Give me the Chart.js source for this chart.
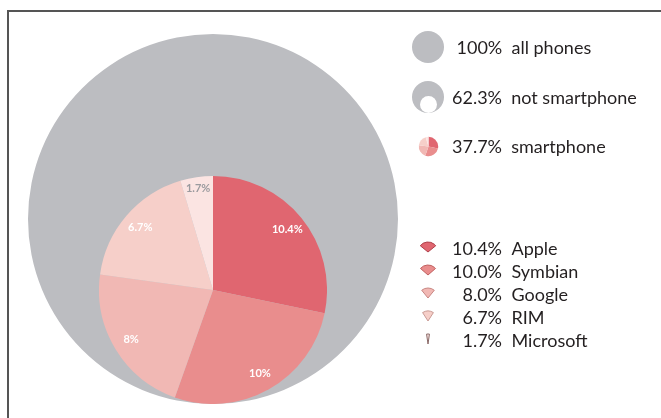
<!DOCTYPE html>
<html>
<head>
<meta charset="utf-8">
<script src="https://cdn.jsdelivr.net/npm/chart.js@4.4.1/dist/chart.umd.min.js"></script>
<style>
  body { margin: 0; background: #fff; }
  #wrap { position: relative; width: 661px; height: 418px; overflow: hidden; }
  #frame { position: absolute; left: 7px; top: 10px; width: 800px; height: 600px;
           border-left: 2px solid #555; border-top: 2px solid #555; }
  #allChart { position: absolute; left: 0; top: 0; }
  #smartChart { position: absolute; left: 99px; top: 176px; }
</style>
</head>
<body>
<div id="wrap">
  <div id="frame"></div>
  <canvas id="allChart" width="661" height="418"></canvas>
  <canvas id="smartChart" width="228" height="228"></canvas>
</div>
<script>
// top legend
const shareLabels = ['100%', '62.3%', '37.7%'];
const shareNames = ['all phones', 'not smartphone', 'smartphone'];

// smartphone platforms (share of all phones, %)
const platforms = ['Apple', 'Symbian', 'Google', 'RIM', 'Microsoft'];
const platformValues = [10.4, 10.0, 8.0, 6.7, 1.7];
const platformLegend = ['10.4%', '10.0%', '8.0%', '6.7%', '1.7%'];
const sliceLabels = ['10.4%', '10%', '8%', '6.7%', '1.7%'];
const sliceColors = ['#E06670', '#E98D8D', '#F1B8B4', '#F6CFC9', '#FBE4E2'];
const iconStroke = ['#B0404A', '#C0605F', '#C88682', '#C99A94', '#8a6a68'];

const grey = '#BCBDC1';
const textColor = '#231F20';
const legendFont = '18px Lato';
const total = platformValues.reduce((a, b) => a + b, 0);

// legend drawn on the big canvas
const legendPlugin = {
    id: 'phoneLegend',
    afterDraw(chart) {
        const ctx = chart.ctx;
        ctx.save();
        // all phones
        ctx.fillStyle = grey;
        ctx.beginPath(); ctx.arc(428, 47, 16, 0, Math.PI * 2); ctx.fill();
        // not smartphone
        ctx.beginPath(); ctx.arc(428, 97, 16, 0, Math.PI * 2); ctx.fill();
        ctx.fillStyle = '#fff';
        ctx.beginPath(); ctx.arc(428.5, 104.5, 8.5, 0, Math.PI * 2); ctx.fill();
        // smartphone mini pie
        let a = -Math.PI / 2;
        platformValues.forEach((v, i) => {
            const e = a + v / total * Math.PI * 2;
            ctx.fillStyle = sliceColors[i];
            ctx.beginPath(); ctx.moveTo(428.5, 146.5);
            ctx.arc(428.5, 146.5, 9.7, a, e); ctx.closePath(); ctx.fill();
            a = e;
        });

        ctx.fillStyle = textColor;
        ctx.font = legendFont;
        ctx.textBaseline = 'alphabetic';
        ctx.textAlign = 'left';
        ctx.fillText(shareLabels[0] + '  ' + shareNames[0], 456.5, 54);
        ctx.fillText(shareLabels[1] + '  ' + shareNames[1], 452, 103.5);
        ctx.fillText(shareLabels[2] + '  ' + shareNames[2], 452, 153);

        // platform rows
        const rowY = [255, 278, 301, 324, 347];
        platforms.forEach((name, i) => {
            const y = rowY[i];
            const half = platformValues[i] / total * Math.PI;
            const ax = 428, ay = y - 3, r = 10;
            ctx.fillStyle = sliceColors[i];
            ctx.strokeStyle = iconStroke[i];
            ctx.lineWidth = 1;
            ctx.beginPath();
            ctx.moveTo(ax, ay);
            ctx.arc(ax, ay, r, -Math.PI / 2 - half, -Math.PI / 2 + half);
            ctx.closePath();
            ctx.fill(); ctx.stroke();

            ctx.fillStyle = textColor;
            ctx.textAlign = 'right';
            ctx.fillText(platformLegend[i], 502, y);
            ctx.textAlign = 'left';
            ctx.fillText(name, 511.5, y);
        });
        ctx.restore();
    }
};

// labels inside the smartphone pie
const sliceLabelPlugin = {
    id: 'sliceLabels',
    afterDatasetsDraw(chart) {
        const ctx = chart.ctx;
        const arcs = chart.getDatasetMeta(0).data;
        ctx.save();
        ctx.font = 'bold 11px Lato';
        ctx.textAlign = 'center';
        ctx.textBaseline = 'middle';
        arcs.forEach((arc, i) => {
            const p = arc.getProps(['x', 'y', 'startAngle', 'endAngle', 'outerRadius'], true);
            const mid = (p.startAngle + p.endAngle) / 2;
            const rr = p.outerRadius * (i === 4 ? 0.9 : 0.84);
            ctx.fillStyle = i === 4 ? '#9a9a9e' : '#fff';
            ctx.fillText(sliceLabels[i], p.x + Math.cos(mid) * rr, p.y + Math.sin(mid) * rr);
        });
        ctx.restore();
    }
};

new Chart(document.getElementById('allChart'), {
    type: 'pie',
    data: {
        labels: ['all phones'],
        datasets: [{ data: [100], backgroundColor: [grey], borderWidth: 0 }]
    },
    options: {
        responsive: false,
        animation: false,
        layout: { padding: { left: 28, top: 34, right: 263, bottom: 14 } },
        plugins: { legend: { display: false }, tooltip: { enabled: false } }
    },
    plugins: [legendPlugin]
});

new Chart(document.getElementById('smartChart'), {
    type: 'pie',
    data: {
        labels: platforms,
        datasets: [{ data: platformValues, backgroundColor: sliceColors, borderWidth: 0 }]
    },
    options: {
        responsive: false,
        animation: false,
        plugins: { legend: { display: false }, tooltip: { enabled: false } }
    },
    plugins: [sliceLabelPlugin]
});
</script>
</body>
</html>
